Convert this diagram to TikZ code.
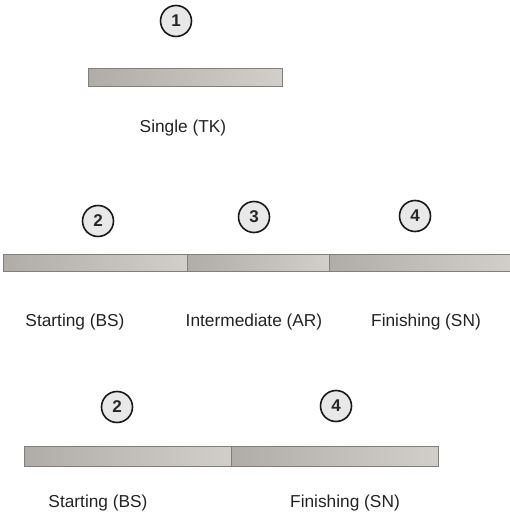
\documentclass[tikz,border=0pt]{standalone}
\usepackage{fontspec}
\setmainfont{Liberation Sans}
\definecolor{barL}{RGB}{176,172,168}
\definecolor{barR}{RGB}{210,207,203}
\definecolor{barE}{RGB}{130,126,122}
\definecolor{txt}{RGB}{35,35,35}
\begin{document}
\begin{tikzpicture}[x=1pt,y=-1pt,
  num/.style={circle,draw=black!90,line width=1.6pt,fill=black!9,minimum size=31pt,inner sep=0pt,font=\fontsize{17}{17}\selectfont\bfseries,text=black!85},
  seg/.style={rectangle,draw=barE,line width=0.8pt,left color=barL,right color=barR,inner sep=0pt,anchor=north west},
  lbl/.style={font=\fontsize{17.3}{18}\selectfont,text=txt}]
\useasboundingbox (0,0) rectangle (509,518);
% Row 1
\node[num] (c1) at (176,21) {1};
\node[seg,minimum width=194pt,minimum height=18pt] (b1) at (88,68) {};
\node[lbl] (t1) at (183,128) {Single (TK)};
% Row 2
\node[num] (c2) at (98,221) {2};
\node[num] (c3) at (254,217) {3};
\node[num] (c4) at (415,216) {4};
\node[seg,minimum width=184pt,minimum height=17pt] (b2) at (3,254) {};
\node[seg,minimum width=142pt,minimum height=17pt] (b3) at (187,254) {};
\node[seg,minimum width=181pt,minimum height=17pt] (b4) at (329,254) {};
\node[lbl] (t2) at (75,322) {Starting (BS)};
\node[lbl] (t3) at (254,322) {Intermediate (AR)};
\node[lbl] (t4) at (426,322) {Finishing (SN)};
% Row 3
\node[num] (c5) at (117,407) {2};
\node[num] (c6) at (336,406) {4};
\node[seg,minimum width=207pt,minimum height=20pt] (b5) at (24,446) {};
\node[seg,minimum width=207pt,minimum height=20pt] (b6) at (231,446) {};
\node[lbl] (t5) at (98,503) {Starting (BS)};
\node[lbl] (t6) at (345,503) {Finishing (SN)};
\end{tikzpicture}
\end{document}
